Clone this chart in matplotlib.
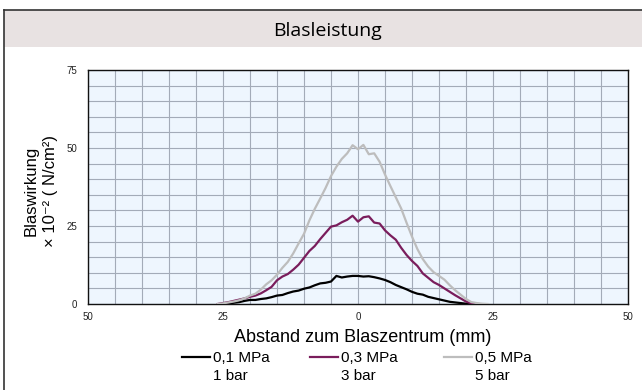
import matplotlib
matplotlib.use("Agg")
import matplotlib.pyplot as plt
from matplotlib.lines import Line2D
from matplotlib.patches import Rectangle

plt.rcParams['font.family'] = ['Liberation Sans', 'DejaVu Sans']

# 0,1 MPa / 1 bar
x_1bar = [-25, -24, -23, -22, -21, -20, -19, -18, -17, -16, -15, -14, -13, -12, -11, -10,
          -9, -8, -7, -6, -5, -4, -3, -2, -1, 0, 1, 2, 3, 4, 5, 6, 7, 8, 9, 10,
          11, 12, 13, 14, 15, 16, 17, 18, 19, 20, 21]
y_1bar = [0.0, 0.1, 0.4, 0.6, 1.0, 1.3, 1.3, 1.6, 1.8, 2.2, 2.7, 2.9, 3.5, 4.0, 4.3, 4.9,
          5.3, 6.0, 6.6, 6.8, 7.2, 9.0, 8.5, 8.8, 9.0, 9.0, 8.8, 8.9, 8.6, 8.2, 7.7, 7.0, 6.1, 5.4, 4.7, 3.9,
          3.3, 3.0, 2.3, 1.9, 1.5, 1.1, 0.7, 0.5, 0.3, 0.1, 0.0]

# 0,3 MPa / 3 bar
x_3bar = [-26, -25, -24, -23, -22, -21, -20, -19, -18, -17, -16, -15, -14, -13, -12, -11, -10,
          -9, -8, -7, -6, -5, -4, -3, -2, -1, 0, 1, 2, 3, 4, 5, 6, 7, 8, 9, 10,
          11, 12, 13, 14, 15, 16, 17, 18, 19, 20, 21, 22]
y_3bar = [0.0, 0.3, 0.6, 1.0, 1.4, 1.8, 2.3, 2.7, 3.4, 4.4, 5.5, 7.6, 8.8, 9.6, 11.0, 12.6, 14.8,
          17.0, 18.6, 20.8, 22.8, 24.8, 25.2, 26.2, 27.0, 28.3, 26.4, 27.8, 28.1, 26.1, 25.8, 23.6, 22.0, 20.6, 18.0, 15.7, 13.8,
          12.2, 9.8, 8.4, 7.0, 6.1, 5.0, 3.9, 2.8, 1.8, 0.8, 0.2, 0.0]

# 0,5 MPa / 5 bar
x_5bar = [-26, -25, -24, -23, -22, -21, -20, -19, -18, -17, -16, -15, -14, -13, -12, -11, -10,
          -9, -8, -7, -6, -5, -4, -3, -2, -1, 0, 1, 2, 3, 4, 5, 6, 7, 8, 9, 10,
          11, 12, 13, 14, 15, 16, 17, 18, 19, 20, 21, 22, 23, 24]
y_5bar = [0.0, 0.2, 0.5, 0.8, 1.2, 1.8, 2.7, 3.3, 4.6, 6.3, 7.6, 9.4, 11.6, 13.5, 16.2, 19.4, 22.5,
          26.8, 30.5, 33.8, 37.2, 41.0, 44.0, 46.5, 48.3, 50.9, 49.6, 51.0, 48.0, 48.3, 45.6, 41.5, 37.8, 34.2, 30.6, 26.0, 21.6,
          17.6, 14.4, 12.0, 10.2, 9.0, 7.8, 6.0, 4.4, 3.0, 1.6, 0.6, 0.3, 0.1, 0.0]

series = [
    (x_1bar, y_1bar, '#000000', '0,1 MPa', '1 bar'),
    (x_3bar, y_3bar, '#7a1d5c', '0,3 MPa', '3 bar'),
    (x_5bar, y_5bar, '#bdbdbd', '0,5 MPa', '5 bar'),
]
x_ticks = [-50, -25, 0, 25, 50]
x_ticklabels = ['50', '25', '0', '25', '50']
y_ticks = [0, 25, 50, 75]

W, H = 642, 390
fig = plt.figure(figsize=(W / 100, H / 100), dpi=100)

# frame and title band
fig.patches.append(Rectangle((4 / W, 1 - 47 / H), 1 - 4 / W, 37 / H, transform=fig.transFigure,
                             facecolor='#e8e2e2', edgecolor='none', zorder=0))
fig.add_artist(Line2D([4 / W, 1], [1 - 10 / H, 1 - 10 / H], color='#333333', lw=1.2))
fig.add_artist(Line2D([4 / W, 4 / W], [0, 1 - 10 / H], color='#333333', lw=1.2))
fig.text(328 / W, 1 - 31 / H, 'Blasleistung', ha='center', va='center', fontsize=14,
         family=['Open Sans', 'DejaVu Sans'])

ax = fig.add_axes([88 / W, 1 - 304 / H, 540 / W, 234 / H])
ax.set_facecolor('#eef6fe')
for xs, ys, c, l1, l2 in series:
    ax.plot(xs, ys, color=c, lw=1.6, zorder=3)

ax.set_xlim(-50, 50)
ax.set_ylim(0, 75)
ax.set_xticks(x_ticks)
ax.set_xticklabels(x_ticklabels)
ax.set_yticks(y_ticks)
ax.set_xticks(range(-50, 51, 5), minor=True)
ax.set_yticks(range(0, 76, 5), minor=True)
ax.grid(which='both', color='#a3abb8', lw=0.8)
ax.set_axisbelow(True)
ax.tick_params(which='both', length=0, labelsize=7, colors='#222222')
ax.tick_params(axis='x', pad=6)
ax.tick_params(axis='y', pad=8)
for s in ax.spines.values():
    s.set_color('#111111')
    s.set_linewidth(1.0)

fig.text(363 / W, 1 - 338 / H, 'Abstand zum Blaszentrum (mm)', ha='center', va='center',
         fontsize=13)
fig.text(31 / W, 1 - 191 / H, 'Blaswirkung', rotation=90, ha='center', va='center', fontsize=12)
fig.text(50 / W, 1 - 191 / H, '× 10⁻² ( N/cm²)', rotation=90, ha='center', va='center',
         fontsize=12)

# legend
leg_x = [182, 310, 444]
for (xs, ys, c, l1, l2), lx in zip(series, leg_x):
    fig.add_artist(Line2D([lx / W, (lx + 28) / W], [1 - 357 / H, 1 - 357 / H], color=c, lw=1.6))
    fig.text((lx + 31) / W, 1 - 358 / H, l1, ha='left', va='center', fontsize=11)
    fig.text((lx + 31) / W, 1 - 376 / H, l2, ha='left', va='center', fontsize=11)

fig.savefig('out.png', dpi=100)
